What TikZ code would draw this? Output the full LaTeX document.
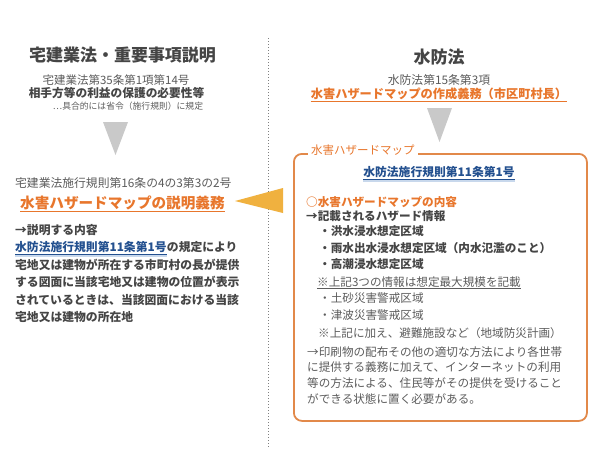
\documentclass[tikz,border=0pt]{standalone}
\usepackage{fontspec}
\setmainfont{Noto Sans CJK JP}
\usetikzlibrary{calc}
\definecolor{tgray}{HTML}{454545}
\definecolor{lgray}{HTML}{5C5C5C}
\definecolor{torange}{HTML}{E8762C}
\definecolor{borange}{HTML}{E2894A}
\definecolor{tblue}{HTML}{23508F}
\definecolor{lblue}{HTML}{C8D8EC}
\definecolor{arrowyel}{HTML}{F0B13F}
\definecolor{trigray}{HTML}{C9C9C9}
\definecolor{dotgray}{HTML}{808080}
\newcommand{\fsz}[1]{\fontsize{#1}{#1}\selectfont}
\begin{document}
\begin{tikzpicture}[x=1pt,y=-1pt,
  txt/.style={inner sep=0pt, anchor=base west, text=lgray},
  ctxt/.style={inner sep=0pt, anchor=base, text=lgray},
  bt/.style={font=\fsz{#1}\bfseries, text=tgray},
  nt/.style={font=\fsz{#1}, text=lgray},
  ulo/.style={torange, line width=0.8pt},
  tri/.style={fill=trigray},
]
\useasboundingbox[fill=white] (0,0) rectangle (600,450);

% divider
\draw[dotgray, line width=0.8pt, dash pattern=on 1pt off 2pt] (268,38) -- (268,448);

% ===== left column =====
\node[ctxt, bt=17] (ltitle) at (122.5,61.5) {宅建業法・重要事項説明};
\node[ctxt, nt=11.5] (lref) at (116,84.4) {宅建業法第35条第1項第14号};
\node[ctxt, bt=11.7] (lneed) at (116.5,97.7) {相手方等の利益の保護の必要性等};
\node[ctxt, nt=8.8] (lnote) at (128,109.4) {…具合的には省令（施行規則）に規定};
\fill[tri] (103,122) -- (128,122) -- (115.5,155) -- cycle;

\node[txt, nt=11.8] (lrule) at (15,187) {宅建業法施行規則第16条の4の3第3の2号};
\node[txt, font=\fsz{14.6}\bfseries, text=torange] (lduty) at (20,208) {水害ハザードマップの説明義務};
\draw[ulo] ($(lduty.base west)+(0,3)$) -- ($(lduty.base east)+(0,3)$);

\node[txt, bt=11.8] (lhead) at (15,234.5) {→説明する内容};
\node[txt, font=\fsz{11.8}\bfseries, text=tblue] (lblue) at (15,251.5) {水防法施行規則第11条第1号};
\fill[lblue] ($(lblue.base west)+(0,2.6)$) rectangle ($(lblue.base east)+(0,5)$);
\draw[tblue, line width=0.7pt] ($(lblue.base west)+(0,2.6)$) -- ($(lblue.base east)+(0,2.6)$);
\node[txt, bt=11.8] (lb1) at (lblue.base east) {の規定により};
\node[txt, bt=11.8] (lb2) at (15,269) {宅地又は建物が所在する市町村の長が提供};
\node[txt, bt=11.8] (lb3) at (15,286.5) {する図面に当該宅地又は建物の位置が表示};
\node[txt, bt=11.8] (lb4) at (15,304) {されているときは、当該図面における当該};
\node[txt, bt=11.8] (lb5) at (15,321.5) {宅地又は建物の所在地};

% ===== right column =====
\node[ctxt, bt=17] (rtitle) at (439,63) {水防法};
\node[ctxt, nt=11.8] (rref) at (439,84.5) {水防法第15条第3項};
\node[ctxt, font=\fsz{12.2}\bfseries, text=torange] (rduty) at (439,98) {水害ハザードマップの作成義務（市区町村長）};
\draw[ulo] ($(rduty.base west)+(0,3)$) -- ($(rduty.base east)+(0,3)$);
\fill[tri] (427,108) -- (452,108) -- (439.5,142) -- cycle;

% box
\node[draw=borange, line width=1.8pt, rounded corners=8pt, minimum width=293pt,
      minimum height=267pt, anchor=north west, inner sep=0pt] (hbox) at (293,153) {};
\node[txt, font=\fsz{11.5}, text=torange, fill=white, inner xsep=3pt] (hlabel) at (308,154.5) {水害ハザードマップ};

% arrow from box to left
\fill[arrowyel] (235,201) -- (283,188) -- (283,213) -- cycle;

\node[ctxt, font=\fsz{11.8}\bfseries, text=tblue] (rblue) at (439,176.5) {水防法施行規則第11条第1号};
\fill[lblue] ($(rblue.base west)+(0,2.6)$) rectangle ($(rblue.base east)+(0,5)$);
\draw[tblue, line width=0.7pt] ($(rblue.base west)+(0,2.6)$) -- ($(rblue.base east)+(0,2.6)$);

\node[txt, font=\fsz{11.6}\bfseries, text=torange] (r1) at (306,206) {○水害ハザードマップの内容};
\node[txt, bt=11.6] (r2) at (306,220.5) {→記載されるハザード情報};
\node[txt, bt=11.6] (r3) at (319,235.5) {・洪水浸水想定区域};
\node[txt, bt=11.6] (r4) at (319,252.5) {・雨水出水浸水想定区域（内水氾濫のこと）};
\node[txt, bt=11.6] (r5) at (319,268.5) {・高潮浸水想定区域};
\node[txt, nt=11.6] (r6) at (317,286) {※上記3つの情報は想定最大規模を記載};
\draw[lgray, line width=0.6pt] ($(r6.base west)+(0,2.5)$) -- ($(r6.base east)+(0,2.5)$);
\node[txt, nt=11.6] (r7) at (319,302.5) {・土砂災害警戒区域};
\node[txt, nt=11.6] (r8) at (319,319.5) {・津波災害警戒区域};
\node[txt, nt=11.6] (r9) at (318,337.5) {※上記に加え、避難施設など（地域防災計画）};
\node[txt, nt=11.6] (r10) at (307,356) {→印刷物の配布その他の適切な方法により各世帯};
\node[txt, nt=11.6] (r11) at (307,371.5) {に提供する義務に加えて、インターネットの利用};
\node[txt, nt=11.6] (r12) at (307,387.5) {等の方法による、住民等がその提供を受けること};
\node[txt, nt=11.6] (r13) at (307,403.5) {ができる状態に置く必要がある。};
\end{tikzpicture}
\end{document}
